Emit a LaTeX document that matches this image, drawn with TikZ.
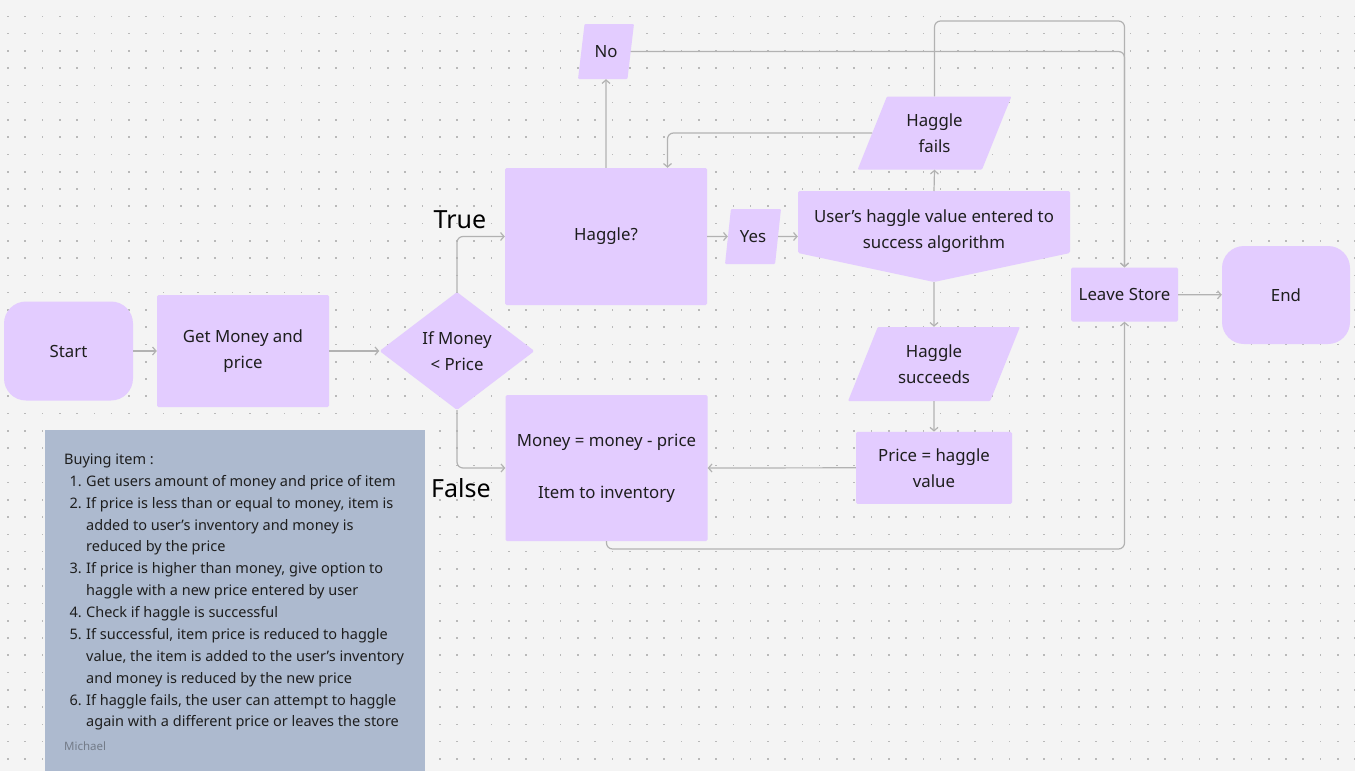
\documentclass[tikz,border=0pt]{standalone}
\usepackage{fontspec}
\setmainfont{Noto Sans}
\usetikzlibrary{shapes.geometric,arrows.meta,calc}
\definecolor{bg}{HTML}{F4F4F4}
\definecolor{dotc}{HTML}{B9B9B9}
\definecolor{lav}{HTML}{E3CCFF}
\definecolor{notec}{HTML}{ADBACF}
\definecolor{linec}{HTML}{B2B2B2}
\definecolor{txt}{HTML}{1E1E1E}
\definecolor{sig}{HTML}{737B88}
\begin{document}
\begin{tikzpicture}[x=1pt,y=-1pt,
  box/.style={fill=lav, draw=none, inner sep=0pt, align=center, text=txt,
    font=\fontsize{16.8}{26}\selectfont, rounded corners=1.5pt},
  rbox/.style={box, rounded corners=22pt},
  para/.style 2 args={box, trapezium, trapezium stretches=true,
    trapezium left angle=#1, trapezium right angle=#2, rounded corners=1pt},
  conn/.style={draw=linec, line width=1.2pt, rounded corners=6pt,
    -{Straight Barb[length=3.5pt,width=8pt]}},
  bigl/.style={font=\fontsize{25}{30}\selectfont, text=black, inner sep=0pt},
  notel/.style={font=\fontsize{14.5}{20}\selectfont, text=txt, inner sep=0pt, anchor=base west},
]
\useasboundingbox (0,0) rectangle (1355,771);
\fill[bg] (0,0) rectangle (1355,771);
\foreach \i in {0,...,78}{
  \foreach \j in {0,...,44}{
    \fill[dotc] ({8+17.27*\i-0.8},{16.3+17.27*\j-0.8}) rectangle ++(1.6,1.6);
  }
}
% note
\fill[notec] (45,430) rectangle (425,775);
\foreach \yy/\nn/\tx [count=\k] in {
  481/1./Get users amount of money and price of item,
  503/2./{If price is less than or equal to money, item is},
  525/{}/added to user’s inventory and money is,
  546/{}/reduced by the price,
  568/3./{If price is higher than money, give option to},
  590/{}/haggle with a new price entered by user,
  612/4./Check if haggle is successful,
  634/5./{If successful, item price is reduced to haggle},
  656/{}/{value, the item is added to the user’s inventory},
  678/{}/and money is reduced by the new price,
  700/6./{If haggle fails, the user can attempt to haggle},
  721/{}/again with a different price or leaves the store}{
  \node[notel] (nl\k) at (86,\yy+5) {\llap{\nn\hspace{4.5pt}}\tx};
}
\node[notel] (nhead) at (64,464) {Buying item :};
\node[font=\fontsize{11.5}{13}\selectfont, text=sig, anchor=base west, inner sep=0pt] (sig) at (64,750) {Michael};

% shapes
\node[rbox, minimum width=129pt, minimum height=99pt] (start) at (68.5,351) {Start};
\node[box, minimum width=172pt, minimum height=112pt] (getm) at (243,351) {Get Money and\\price};
\node[box, diamond, minimum width=155pt, minimum height=118pt] (dia) at (457,351) {If Money\\< Price};
\node[box, minimum width=202pt, minimum height=137pt] (hag) at (606,236.5) {Haggle?};
\node[para={74}{106}, minimum width=56pt, minimum height=55pt] (no) at (606,51.5) {No};
\node[para={74}{106}, minimum width=56pt, minimum height=55pt] (yes) at (753,236.5) {Yes};
\fill[lav, rounded corners=1.5pt] (798,191) -- (1070,191) -- (1070,253) -- (934,282) -- (798,253) -- cycle;
\node[box, fill=none, minimum width=272pt] (doc) at (934,231) {User’s haggle value entered to\\success algorithm};
\coordinate (doctop) at (934,191);
\coordinate (docbot) at (934,282);
\node[para={66}{114}, minimum width=155pt, minimum height=73pt] (hf) at (934.5,133) {Haggle\\fails};
\node[para={64}{116}, minimum width=172pt, minimum height=74pt] (hs) at (934,364) {Haggle\\succeeds};
\node[box, minimum width=202pt, minimum height=146pt] (money) at (606.5,468) {Money = money - price\\[26pt]Item to inventory};
\node[box, minimum width=156pt, minimum height=72pt] (price) at (934,467.8) {Price = haggle\\value};
\node[box, minimum width=107pt, minimum height=54pt] (leave) at (1124.5,294.5) {Leave Store};
\node[rbox, minimum width=128pt, minimum height=98pt] (endn) at (1286,295) {End};

\node[bigl] (true) at (460,220) {True};
\node[bigl] (false) at (461,488) {False};

% connectors
\draw[conn] (start) -- (getm);
\draw[conn] (getm) -- (dia);
\draw[conn] (dia.north) |- (hag.west);
\draw[conn] (dia.south) |- (money.west);
\draw[conn] (hag.north) -- (no.south);
\draw[conn] (hag) -- (yes);
\draw[conn] (yes) -- (yes -| doc.west);
\draw[conn] (doctop) -- (hf.south);
\draw[conn] (docbot) -- (hs.north);
\draw[conn] (hf.west) -| ([xshift=61.5pt]hag.north);
\coordinate (tr) at (1124.5,21);
\draw[conn] (hf.north) |- (tr) -- (leave.north);
\draw[conn] (no.east) -| (leave.north);
\draw[conn] (hs.south) -- (price.north);
\draw[conn] (price.west) -- (money.east);
\coordinate (br) at (1124.5,549);
\draw[conn] (money.south) |- (br) -- (leave.south);
\draw[conn] (leave) -- (endn);
\end{tikzpicture}
\end{document}
